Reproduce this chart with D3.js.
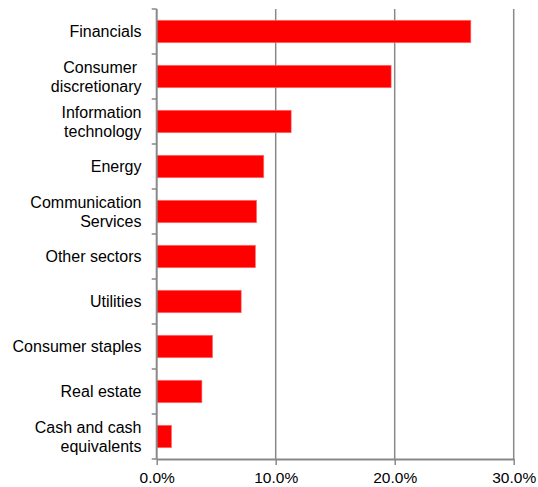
<!DOCTYPE html>
<html>
<head>
<meta charset="utf-8">
<script src="https://cdn.jsdelivr.net/npm/d3@7"></script>
<style>
  body { margin: 0; background: #fff; }
  text { font-family: "Liberation Sans", Arial, sans-serif; fill: #000; }
</style>
</head>
<body>
<svg id="chart" width="538" height="487"></svg>
<script>
var categories = [
  ["Financials"],
  ["Consumer\u00a0", "discretionary"],
  ["Information", "technology"],
  ["Energy"],
  ["Communication", "Services"],
  ["Other sectors"],
  ["Utilities"],
  ["Consumer staples"],
  ["Real estate"],
  ["Cash and cash", "equivalents"]
];
var values = [0.264, 0.197, 0.113, 0.090, 0.084, 0.083, 0.071, 0.047, 0.038, 0.0125];
var tickValues = [0, 0.10, 0.20, 0.30];

var svg = d3.select("#chart");
var plotLeft = 156.7, plotRight = 513.7, plotTop = 9, plotBottom = 459;
var gridColor = "#898989";

var x = d3.scaleLinear().domain([0, 0.30]).range([plotLeft, plotRight]);
var y = d3.scaleBand().domain(d3.range(categories.length)).range([plotTop, plotBottom]).paddingInner(0.5).paddingOuter(0.25);

// gridlines
svg.selectAll(".grid").data(tickValues.slice(1)).enter().append("line")
  .attr("class", "grid")
  .attr("x1", function(d) { return x(d) }).attr("x2", function(d) { return x(d) })
  .attr("y1", plotTop).attr("y2", plotBottom)
  .attr("stroke", gridColor).attr("stroke-width", 1.5);

// bars
svg.selectAll(".bar").data(values).enter().append("rect")
  .attr("class", "bar")
  .attr("x", x(0))
  .attr("y", function(d, i) { return y(i) })
  .attr("width", function(d) { return x(d) - x(0) })
  .attr("height", y.bandwidth())
  .attr("fill", "#ff0000")
  .attr("stroke", "#ff7a7a").attr("stroke-width", 0.6);

// x axis
var xAxis = svg.append("g").attr("transform", "translate(0," + plotBottom + ")")
  .call(d3.axisBottom(x).tickValues(tickValues).tickSize(6).tickSizeOuter(0)
    .tickFormat(function(d) { return (d * 100).toFixed(1) + "%" }));
xAxis.select(".domain").attr("stroke", gridColor).attr("stroke-width", 1.8);
xAxis.selectAll(".tick line").attr("stroke", gridColor).attr("stroke-width", 1.5);
xAxis.selectAll(".tick text").attr("y", 13).attr("dy", "0.71em")
  .style("font-size", "15.5px").style("font-family", "'Liberation Sans', Arial, sans-serif").attr("fill", "#000");

// y axis line + ticks at band boundaries
var bounds = d3.range(categories.length + 1).map(function(i) { return plotTop + i * (plotBottom - plotTop) / categories.length });
svg.append("line").attr("x1", plotLeft).attr("x2", plotLeft).attr("y1", plotTop).attr("y2", plotBottom)
  .attr("stroke", gridColor).attr("stroke-width", 2);
svg.selectAll(".ytick").data(bounds).enter().append("line")
  .attr("class", "ytick")
  .attr("x1", plotLeft - 5).attr("x2", plotLeft)
  .attr("y1", function(d) { return d }).attr("y2", function(d) { return d })
  .attr("stroke", gridColor).attr("stroke-width", 1.5);

// category labels
var labels = svg.selectAll(".cat").data(categories).enter().append("text")
  .attr("class", "cat")
  .attr("text-anchor", "end")
  .style("font-size", "16px");
labels.each(function(lines, i) {
  var cy = y(i) + y.bandwidth() / 2;
  var lh = 19;
  d3.select(this).selectAll("tspan").data(lines).enter().append("tspan")
    .attr("x", 141.5)
    .attr("y", function(d, j) { return cy + (j - (lines.length - 1) / 2) * lh })
    .attr("dy", "0.35em")
    .text(function(d) { return d });
});
</script>
</body>
</html>
